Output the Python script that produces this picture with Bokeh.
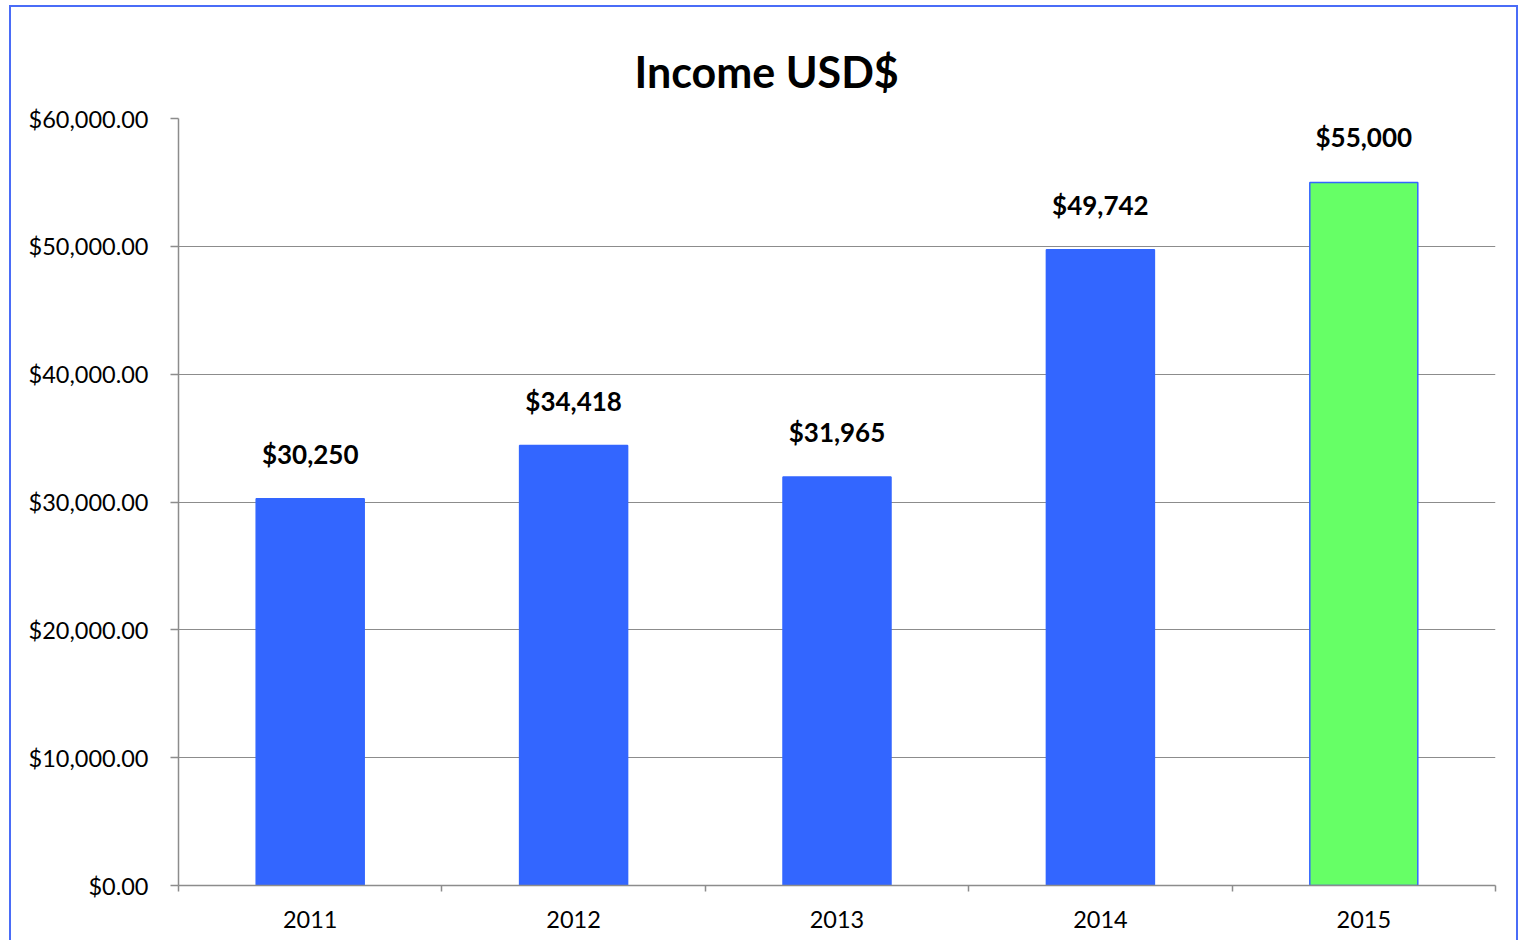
from bokeh.plotting import figure
from bokeh.models import Range1d, FixedTicker, NumeralTickFormatter, ColumnDataSource
from bokeh.core.properties import value
from bokeh.embed import file_html
from bokeh.resources import INLINE

years = ["2011", "2012", "2013", "2014", "2015"]
income = [30250, 34418, 31965, 49742, 55000]
bar_colors = ["#3366FF", "#3366FF", "#3366FF", "#3366FF", "#66FF66"]
y_ticks = [0, 10000, 20000, 30000, 40000, 50000, 60000]

FONT = "Lato"

xpos = [i + 0.5 for i in range(len(years))]
labels = ["${:,.0f}".format(v) for v in income]
src = ColumnDataSource(dict(x=xpos, top=income, color=bar_colors, label=labels))

p = figure(width=1519, height=940, output_backend="svg", toolbar_location=None,
           x_range=Range1d(0, len(years)), y_range=Range1d(0, 60000),
           title="Income USD$", min_border_left=178, min_border_right=24,
           min_border_top=118, min_border_bottom=55)
p.stylesheets = [
    ":host { position: relative; }"
    ":host::after { content: ''; position: absolute; left: 9px; top: 5px; right: 1px;"
    " bottom: 0px; border: 2px solid #4a6cf7; border-bottom: none;"
    " pointer-events: none; z-index: 100; }"
]

p.title.text_font = FONT
p.title.text_font_size = "43px"
p.title.text_font_style = "bold"
p.title.align = "left"
p.title.vertical_align = "top"
p.title.text_color = "#000000"
p.title.offset = 456
p.title.standoff = 40

p.vbar(x="x", top="top", width=0.41, source=src, fill_color="color",
       line_color="#3366FF", line_width=1.5)
p.text(x="x", y="top", text="label", source=src, text_align="center",
       text_baseline="middle", y_offset=-45, text_font=value(FONT),
       text_font_size="26px", text_font_style="bold", text_color="#000000")

p.outline_line_color = None
p.xgrid.grid_line_color = None
p.ygrid.grid_line_color = "#8c8c8c"
p.ygrid.grid_line_width = 1.2

p.yaxis.ticker = FixedTicker(ticks=y_ticks, minor_ticks=[])
p.yaxis.formatter = NumeralTickFormatter(format="$0,0.00")
p.xaxis.ticker = FixedTicker(ticks=xpos, minor_ticks=list(range(len(years) + 1)))
p.xaxis.major_label_overrides = {x: y for x, y in zip(xpos, years)}

for ax in (p.xaxis, p.yaxis):
    ax.axis_line_color = "#8c8c8c"
    ax.axis_line_width = 1.5
    ax.major_label_text_font = FONT
    ax.major_label_text_font_size = "23.5px"
    ax.major_label_text_color = "#000000"

p.yaxis.major_tick_line_color = "#8c8c8c"
p.yaxis.major_tick_line_width = 1.5
p.yaxis.major_tick_out = 8
p.yaxis.major_tick_in = 0
p.yaxis.major_label_standoff = 22

p.xaxis.major_tick_line_color = None
p.xaxis.major_tick_out = 6
p.xaxis.major_tick_in = 0
p.xaxis.minor_tick_line_color = "#8c8c8c"
p.xaxis.minor_tick_line_width = 1.5
p.xaxis.minor_tick_out = 6
p.xaxis.minor_tick_in = 0
p.xaxis.major_label_standoff = 19

open("out.html", "w").write(file_html(p, INLINE))
